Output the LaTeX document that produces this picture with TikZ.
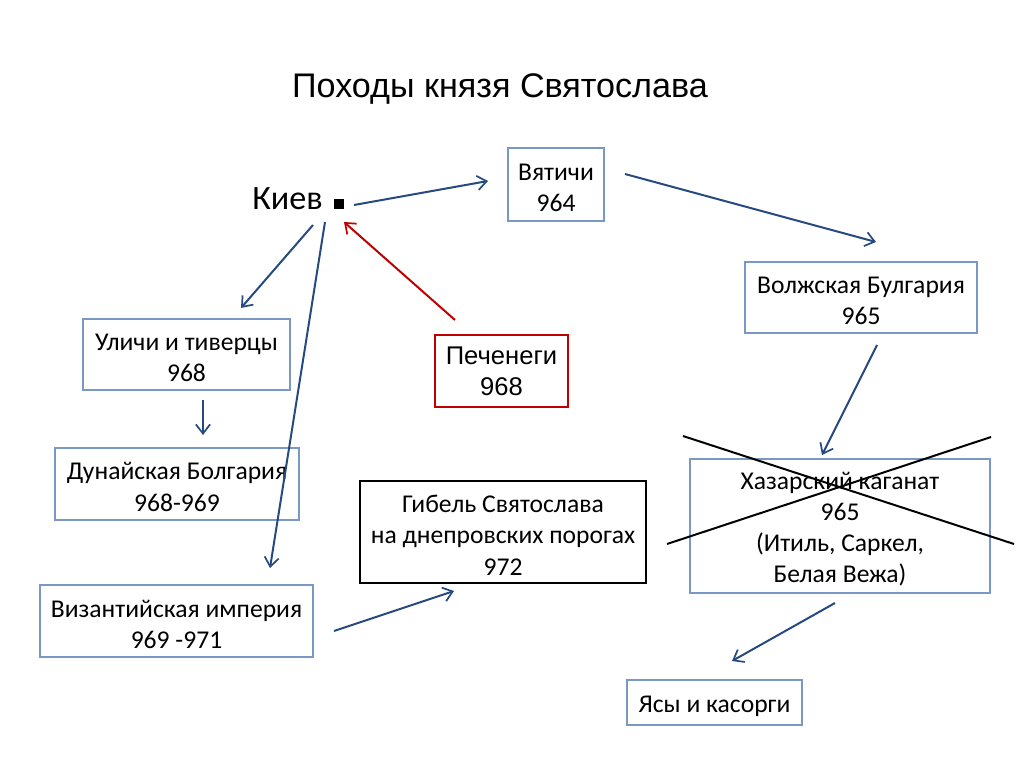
\documentclass[tikz,border=0pt]{standalone}
\usepackage{fontspec}
\setmainfont{Carlito}
\newfontfamily\arialf{Liberation Sans}
\usetikzlibrary{arrows.meta}
\newcommand\upx{0.703125pt}
\newcommand\tst{\rule{0pt}{16.5pt}}
\definecolor{boxblue}{RGB}{122,152,196}
\definecolor{arrblue}{RGB}{38,74,128}
\definecolor{arrred}{RGB}{192,0,0}
\tikzset{
  bbox/.style={draw=boxblue, line width=0.8pt, align=center, inner sep=0pt,
    font=\fontsize{18}{22}\selectfont},
  arr/.style={draw=arrblue, line width=1.4pt, -{Straight Barb[length=6.5pt,width=10pt,line width=1.2pt]}},
}
\begin{document}
\begin{tikzpicture}[x=\upx, y=-\upx]
\useasboundingbox (0,0) rectangle (1024,767);
\fill[white] (0,0) rectangle (1024,767);

\node[font=\arialf\fontsize{24}{28}\selectfont] (title) at (500,89) {Походы князя Святослава};

\node[font=\fontsize{24}{28}\selectfont, anchor=base west, inner sep=0pt] (kiev) at (252,210) {Киев};
\node[fill=black, minimum size=10*\upx, inner sep=0pt] (sq) at (338.5,204) {};

\node[bbox, minimum width=96*\upx, minimum height=73*\upx] (vyat) at (556,184.5) {\tst Вятичи\\964};
\node[bbox, minimum width=232*\upx, minimum height=71*\upx] (volzh) at (861,297.5) {\tst Волжская Булгария\\965};
\node[bbox, minimum width=207*\upx, minimum height=71*\upx] (ulich) at (186.5,354.5) {\tst Уличи и тиверцы\\968};
\node[bbox, draw=arrred, line width=1.4pt, font=\arialf\fontsize{18}{22}\selectfont, minimum width=133*\upx, minimum height=72*\upx] (pech) at (501.5,371) {Печенеги\\968};
\node[bbox, minimum width=244*\upx, minimum height=72*\upx] (dun) at (177,484) {\tst Дунайская Болгария\\968-969};
\node[bbox, draw=black, line width=1.4pt, minimum width=286*\upx, minimum height=102*\upx] (gib) at (503,532) {\tst Гибель Святослава\\на днепровских порогах\\972};
\node[bbox, minimum width=300*\upx, minimum height=134*\upx] (haz) at (840,526) {\tst Хазарский каганат\\965\\(Итиль, Саркел,\\Белая Вежа)};
\node[bbox, minimum width=273*\upx, minimum height=72*\upx] (viz) at (176.5,621) {\tst Византийская империя\\969 -971};
\node[bbox, minimum width=175*\upx, minimum height=45*\upx] (yas) at (714.5,702.5) {\tst Ясы и касорги};

% connector end points
\coordinate (k1) at (354,205); \coordinate (v1) at (488,181);
\coordinate (v2) at (625,174); \coordinate (w1) at (876,242);
\coordinate (w2) at (877,345); \coordinate (h1) at (822,455);
\coordinate (h2) at (835,603); \coordinate (y1) at (732,661);
\coordinate (k2) at (313,225); \coordinate (u1) at (241,308);
\coordinate (u2) at (203,400); \coordinate (d1) at (203,435);
\coordinate (k3) at (325,222); \coordinate (z1) at (270,568);
\coordinate (z2) at (334,631); \coordinate (g1) at (454,591);
\coordinate (p1) at (455,320); \coordinate (k4) at (344,222);

\draw[arr] (k1) -- (v1);
\draw[arr] (v2) -- (w1);
\draw[arr] (w2) -- (h1);
\draw[arr] (h2) -- (y1);
\draw[arr] (k2) -- (u1);
\draw[arr] (u2) -- (d1);
\draw[arr] (k3) -- (z1);
\draw[arr] (z2) -- (g1);
\draw[arr, draw=arrred] (p1) -- (k4);

% cross over Khazar box
\coordinate (c1) at (683,436); \coordinate (c2) at (1014,544);
\coordinate (c3) at (667,544); \coordinate (c4) at (991,437);
\draw[line width=1.4pt] (c1) -- (c2);
\draw[line width=1.4pt] (c3) -- (c4);
\end{tikzpicture}
\end{document}
